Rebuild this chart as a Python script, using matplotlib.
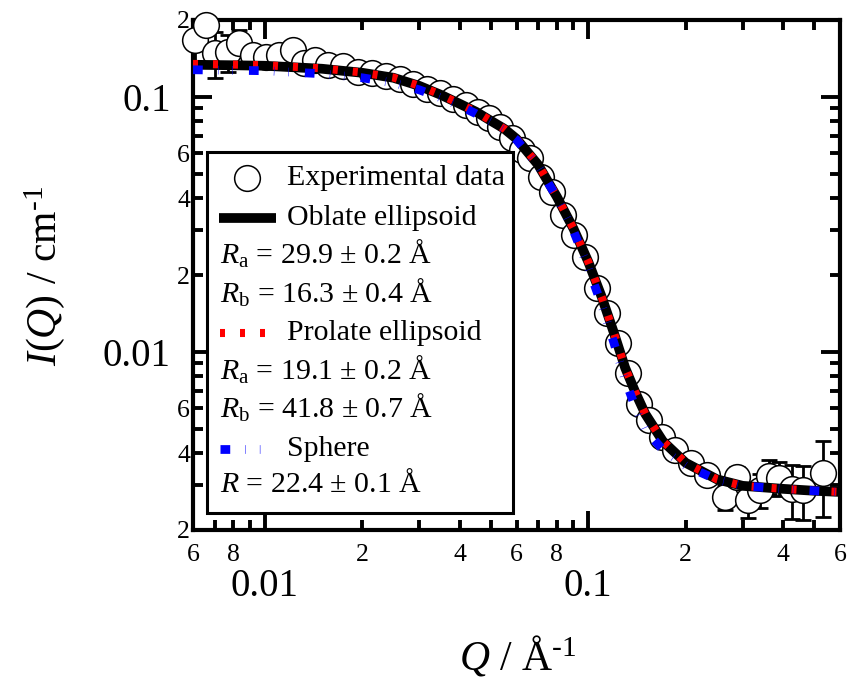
import matplotlib
matplotlib.use('Agg')
import matplotlib.pyplot as plt
from matplotlib.ticker import FixedLocator, FixedFormatter
from matplotlib.patches import Rectangle

plt.rcParams['font.family'] = ['Liberation Serif', 'DejaVu Serif']
plt.rcParams['mathtext.fontset'] = 'custom'
plt.rcParams['mathtext.rm'] = 'Liberation Serif'
plt.rcParams['mathtext.it'] = 'Liberation Serif:italic'
plt.rcParams['mathtext.bf'] = 'Liberation Serif:bold'
plt.rcParams['lines.scale_dashes'] = False

# ---------------- data ----------------
q_exp = [0.00608, 0.00657, 0.00701, 0.00769, 0.00831, 0.00918, 0.01007, 0.01105,
         0.01220, 0.01319, 0.01427, 0.01564, 0.01741, 0.01936, 0.02139, 0.02363,
         0.02610, 0.02862, 0.03162, 0.03493, 0.03831, 0.04203, 0.04576, 0.04948,
         0.05350, 0.05827, 0.06256, 0.06622, 0.07161, 0.07743, 0.08373, 0.09055,
         0.09788, 0.1066, 0.1145, 0.1238, 0.1329, 0.1437, 0.1543, 0.1692,
         0.1856, 0.2079, 0.2330, 0.2647, 0.2884, 0.3117, 0.3396, 0.3620,
         0.3886, 0.4262, 0.4608, 0.5313]
i_exp = [0.1673, 0.1916, 0.1488, 0.1501, 0.1628, 0.1461, 0.1435, 0.1461,
         0.1529, 0.1359, 0.1397, 0.1335, 0.1323, 0.1253, 0.1242, 0.1209,
         0.1177, 0.1125, 0.1075, 0.1037, 0.0982, 0.0930, 0.0873, 0.0827,
         0.0763, 0.0691, 0.0620, 0.0577, 0.0486, 0.0424, 0.0345, 0.0288,
         0.02358, 0.01782, 0.01422, 0.01085, 0.00827, 0.00625, 0.00541, 0.00464,
         0.00413, 0.00367, 0.00329, 0.00270, 0.00323, 0.00263, 0.00288, 0.00326,
         0.00321, 0.00290, 0.00288, 0.00335]
err_exp = [0.03, 0.03, 0.03, 0.025, 0.02, 0.012, 0.006, 0.006,
           0.005, 0.004, 0.004, 0.003, 0.003, 0.003, 0.002, 0.002,
           0.002, 0.002, 0.002, 0.0015, 0.0015, 0.0012, 0.0012, 0.001,
           0.001, 0.0009, 0.0008, 0.0007, 0.0006, 0.0005, 0.0004, 0.0004,
           0.0003, 0.00025, 0.0002, 0.00018, 0.00015, 0.00013, 0.00012, 0.00012,
           0.00012, 0.00013, 0.00015, 0.0003, 0.0003, 0.0004, 0.00044, 0.0005,
           0.0005, 0.0007, 0.0007, 0.0011]

q_fit = [0.006, 0.008, 0.01, 0.015, 0.02, 0.025, 0.03, 0.035, 0.04, 0.045, 0.05,
         0.055, 0.06, 0.07, 0.08, 0.09, 0.1, 0.11, 0.12, 0.13, 0.14, 0.15, 0.17,
         0.2, 0.25, 0.3, 0.4, 0.5, 0.6]
i_oblate = [0.1335, 0.1329, 0.1323, 0.1288, 0.1242, 0.1187, 0.1104, 0.1018, 0.0939,
            0.0873, 0.0805, 0.0749, 0.0684, 0.0541, 0.0405, 0.0304, 0.02254, 0.01643,
            0.01187, 0.00866, 0.00691, 0.00571, 0.00446, 0.00367, 0.00316, 0.00298,
            0.00290, 0.00285, 0.00282]
i_prolate = [0.1345, 0.1338, 0.1330, 0.1293, 0.1245, 0.1189, 0.1105, 0.1018, 0.0939,
             0.0873, 0.0805, 0.0749, 0.0684, 0.0542, 0.0406, 0.0304, 0.02254, 0.01640,
             0.01185, 0.00866, 0.00690, 0.00570, 0.00446, 0.00367, 0.00316, 0.00298,
             0.00290, 0.00285, 0.00282]
i_sphere = [0.1276, 0.1270, 0.1265, 0.1231, 0.1187, 0.1134, 0.1065, 0.0991, 0.0922,
            0.0858, 0.0798, 0.0742, 0.0678, 0.0536, 0.0402, 0.0298, 0.02135, 0.01529,
            0.01085, 0.00777, 0.00603, 0.00494, 0.00413, 0.00357, 0.00315, 0.00298,
            0.00290, 0.00285, 0.00282]

x_major_ticks = [0.01, 0.1]
x_major_labels = ['0.01', '0.1']
x_minor_ticks = [0.006, 0.007, 0.008, 0.009,
                 0.02, 0.03, 0.04, 0.05, 0.06, 0.07, 0.08, 0.09,
                 0.2, 0.3, 0.4, 0.5, 0.6]
x_minor_labels = ['6', '', '8', '',
                  '2', '', '4', '', '6', '', '8', '',
                  '2', '', '4', '', '6']
y_major_ticks = [0.01, 0.1]
y_major_labels = ['0.01', '0.1']
y_minor_ticks = [0.002, 0.003, 0.004, 0.005, 0.006, 0.007, 0.008, 0.009,
                 0.02, 0.03, 0.04, 0.05, 0.06, 0.07, 0.08, 0.09, 0.2]
y_minor_labels = ['2', '', '4', '', '6', '', '', '',
                  '2', '', '4', '', '6', '', '', '', '2']

legend_main = ['Experimental data', 'Oblate ellipsoid', 'Prolate ellipsoid', 'Sphere']
legend_params_oblate = [r'$R_{\mathrm{a}}$ = 29.9 ± 0.2 Å', r'$R_{\mathrm{b}}$ = 16.3 ± 0.4 Å']
legend_params_prolate = [r'$R_{\mathrm{a}}$ = 19.1 ± 0.2 Å', r'$R_{\mathrm{b}}$ = 41.8 ± 0.7 Å']
legend_params_sphere = [r'$R$ = 22.4 ± 0.1 Å']

# ---------------- figure ----------------
W, H = 850, 678
fig = plt.figure(figsize=(W / 100, H / 100), dpi=100)
ax = fig.add_axes([193 / W, 1 - 530 / H, 647 / W, 510 / H])
ax.set_xscale('log')
ax.set_yscale('log')

red_dash = (0, (3.6, 10.8))
blue_dash = (0, (7.0, 11.0, 0.35, 10.0, 0.35, 11.6))

ax.errorbar(q_exp, i_exp, yerr=err_exp, fmt='none', ecolor='black',
            elinewidth=2.0, capsize=6, capthick=2.0, zorder=2)
ax.plot(q_exp, i_exp, 'o', ms=18.5, mfc='white', mec='black', mew=1.1,
        clip_on=False, zorder=3)
ax.plot(q_fit, i_oblate, color='black', lw=7, solid_capstyle='butt', zorder=4)
ax.plot(q_fit, i_prolate, color='red', lw=5.8, linestyle=red_dash,
        dash_capstyle='butt', zorder=5)
ax.plot(q_fit, i_sphere, color='#0000ff', lw=6.3, linestyle=blue_dash,
        dash_capstyle='butt', zorder=6)

ax.set_xlim(0.006, 0.6)
ax.set_ylim(0.002, 0.2)

ax.xaxis.set_major_locator(FixedLocator(x_major_ticks))
ax.xaxis.set_major_formatter(FixedFormatter(x_major_labels))
ax.xaxis.set_minor_locator(FixedLocator(x_minor_ticks))
ax.xaxis.set_minor_formatter(FixedFormatter(x_minor_labels))
ax.yaxis.set_major_locator(FixedLocator(y_major_ticks))
ax.yaxis.set_major_formatter(FixedFormatter(y_major_labels))
ax.yaxis.set_minor_locator(FixedLocator(y_minor_ticks))
ax.yaxis.set_minor_formatter(FixedFormatter(y_minor_labels))

ax.tick_params(which='both', direction='in', top=True, right=True, width=2.8)
ax.tick_params(which='major', length=14)
ax.tick_params(which='minor', length=7)
ax.tick_params(axis='x', which='major', labelsize=28, pad=27)
ax.tick_params(axis='x', which='minor', labelsize=18.5, pad=10)
ax.tick_params(axis='y', which='major', labelsize=28, pad=16)
ax.tick_params(axis='y', which='minor', labelsize=18.5, pad=2)
for s in ax.spines.values():
    s.set_linewidth(3)

# axis titles
fig.text(45 / W, 1 - 276 / H, r'$I$($Q$) / cm$^{\text{-1}}$', rotation=90,
         ha='center', va='center', fontsize=30)
fig.text(518 / W, 1 - 670 / H, r'$Q$ / Å$^{\text{-1}}$', ha='center',
         va='baseline', fontsize=30)

# ---------------- legend box (drawn in axes coordinates) ----------------
def ay(py):
    return (530 - py) / 510

def axx(px):
    return (px - 193) / 647

box = Rectangle((axx(207), ay(513)), axx(513) - axx(207), ay(152) - ay(513),
                transform=ax.transAxes, facecolor='white', edgecolor='black',
                lw=2.2, zorder=10, clip_on=False)
ax.add_patch(box)

tx_label = axx(287)
tx_param = axx(220)
fs = 21.5

ax.plot([axx(247)], [ay(178)], 'o', ms=18.5, mfc='white', mec='black', mew=1.1,
        transform=ax.transAxes, zorder=11, clip_on=False)
ax.text(tx_label, ay(178), legend_main[0], transform=ax.transAxes, fontsize=fs,
        va='center', ha='left', zorder=11)

ax.plot([axx(219), axx(276)], [ay(218), ay(218)], color='black', lw=7,
        solid_capstyle='butt', transform=ax.transAxes, zorder=11, clip_on=False)
ax.text(tx_label, ay(218), legend_main[1], transform=ax.transAxes, fontsize=fs,
        va='center', ha='left', zorder=11)
for k, t in enumerate(legend_params_oblate):
    ax.text(tx_param, ay(254 + 39 * k), t, transform=ax.transAxes, fontsize=fs,
            va='center', ha='left', zorder=11)

ax.plot([axx(219.5), axx(266)], [ay(333), ay(333)], color='red', lw=5.8,
        linestyle=red_dash, dash_capstyle='butt', transform=ax.transAxes,
        zorder=11, clip_on=False)
ax.text(tx_label, ay(333), legend_main[2], transform=ax.transAxes, fontsize=fs,
        va='center', ha='left', zorder=11)
for k, t in enumerate(legend_params_prolate):
    ax.text(tx_param, ay(370 + 38 * k), t, transform=ax.transAxes, fontsize=fs,
            va='center', ha='left', zorder=11)

ax.plot([axx(220), axx(270)], [ay(449), ay(449)], color='#0000ff', lw=6.3,
        linestyle=blue_dash, dash_capstyle='butt', transform=ax.transAxes,
        zorder=11, clip_on=False)
ax.text(tx_label, ay(449), legend_main[3], transform=ax.transAxes, fontsize=fs,
        va='center', ha='left', zorder=11)
for k, t in enumerate(legend_params_sphere):
    ax.text(tx_param, ay(484 + 38 * k), t, transform=ax.transAxes, fontsize=fs,
            va='center', ha='left', zorder=11)

fig.savefig('out.png', dpi=100)
